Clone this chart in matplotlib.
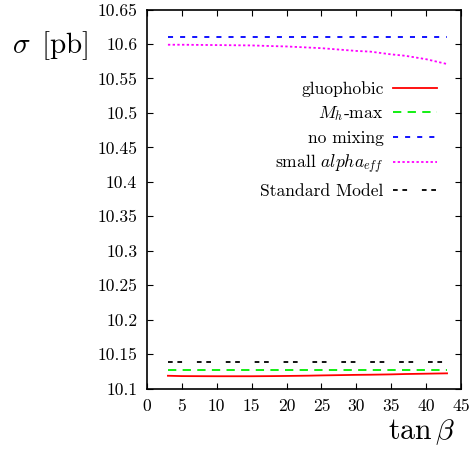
import matplotlib
matplotlib.use("Agg")
import matplotlib.pyplot as plt

plt.rcParams['font.family'] = 'serif'
plt.rcParams['font.serif'] = ['cmr10', 'DejaVu Serif']
plt.rcParams['mathtext.fontset'] = 'cm'
plt.rcParams['axes.formatter.use_mathtext'] = True

tanb = [3, 5, 10, 15, 18, 20, 23, 25, 30, 32, 35, 37, 40, 43]
gluophobic = [10.1185, 10.118, 10.1178, 10.1178, 10.118, 10.1182, 10.1186, 10.119, 10.1198, 10.120, 10.1205, 10.121, 10.1215, 10.122]
mhmax = [10.1265] * len(tanb)
nomixing = [10.610] * len(tanb)
smallalpha = [10.599, 10.599, 10.5985, 10.598, 10.597, 10.5965, 10.595, 10.594, 10.590, 10.589, 10.585, 10.583, 10.578, 10.571]
sm = [10.1385] * len(tanb)

xticks = [0, 5, 10, 15, 20, 25, 30, 35, 40, 45]
yticks = [10.1, 10.15, 10.2, 10.25, 10.3, 10.35, 10.4, 10.45, 10.5, 10.55, 10.6, 10.65]

fig = plt.figure(figsize=(4.70, 4.53), dpi=100)
ax = fig.add_axes([147/470, 1 - 388.5/453, (461-147)/470, (388.5-9.6)/453])

lw = 1.3
ax.plot(tanb, gluophobic, color='#ff0000', lw=lw, label='gluophobic')
ax.plot(tanb, mhmax, color='#00ee00', lw=lw, linestyle=(0, (4.6, 3.5)), label=r'$M_h$-max')
ax.plot(tanb, nomixing, color='#0000ff', lw=lw, linestyle=(0, (2.8, 3.9)), label='no mixing')
ax.plot(tanb, smallalpha, color='#ff00ff', lw=lw, linestyle=(0, (1.3, 1.3)), label=r'small $alpha_{eff}$')
ax.plot(tanb, sm, color='black', lw=lw, linestyle=(0, (2.6, 2.6, 2.6, 8.2)), label='Standard Model')

ax.set_xlim(0, 45)
ax.set_ylim(10.1, 10.65)
ax.set_xticks(xticks)
ax.set_xticklabels([str(t) for t in xticks])
ax.set_yticks(yticks)
ax.set_yticklabels([f"{t:g}" for t in yticks])
ax.tick_params(direction='in', top=True, right=True, length=4, width=0.8, labelsize=12.6, pad=7)
for s in ax.spines.values():
    s.set_linewidth(1.2)

leg = ax.legend(loc='upper right', bbox_to_anchor=(0.946, 0.83), frameon=False, markerfirst=False,
                fontsize=12.6, handlelength=2.5, handletextpad=0.55, labelspacing=0.42, borderaxespad=0)
for t in leg.get_texts():
    t.set_ha('right')
leg._legend_box.align = "right"

fig.text(12/470, 1 - 46/453, r'$\sigma\ \,[\mathrm{pb}]$', fontsize=21, va='center', ha='left')
fig.text(455/470, 1 - 432/453, r'$\tan\beta$', fontsize=21.5, va='center', ha='right')

fig.savefig('out.png', dpi=100)
